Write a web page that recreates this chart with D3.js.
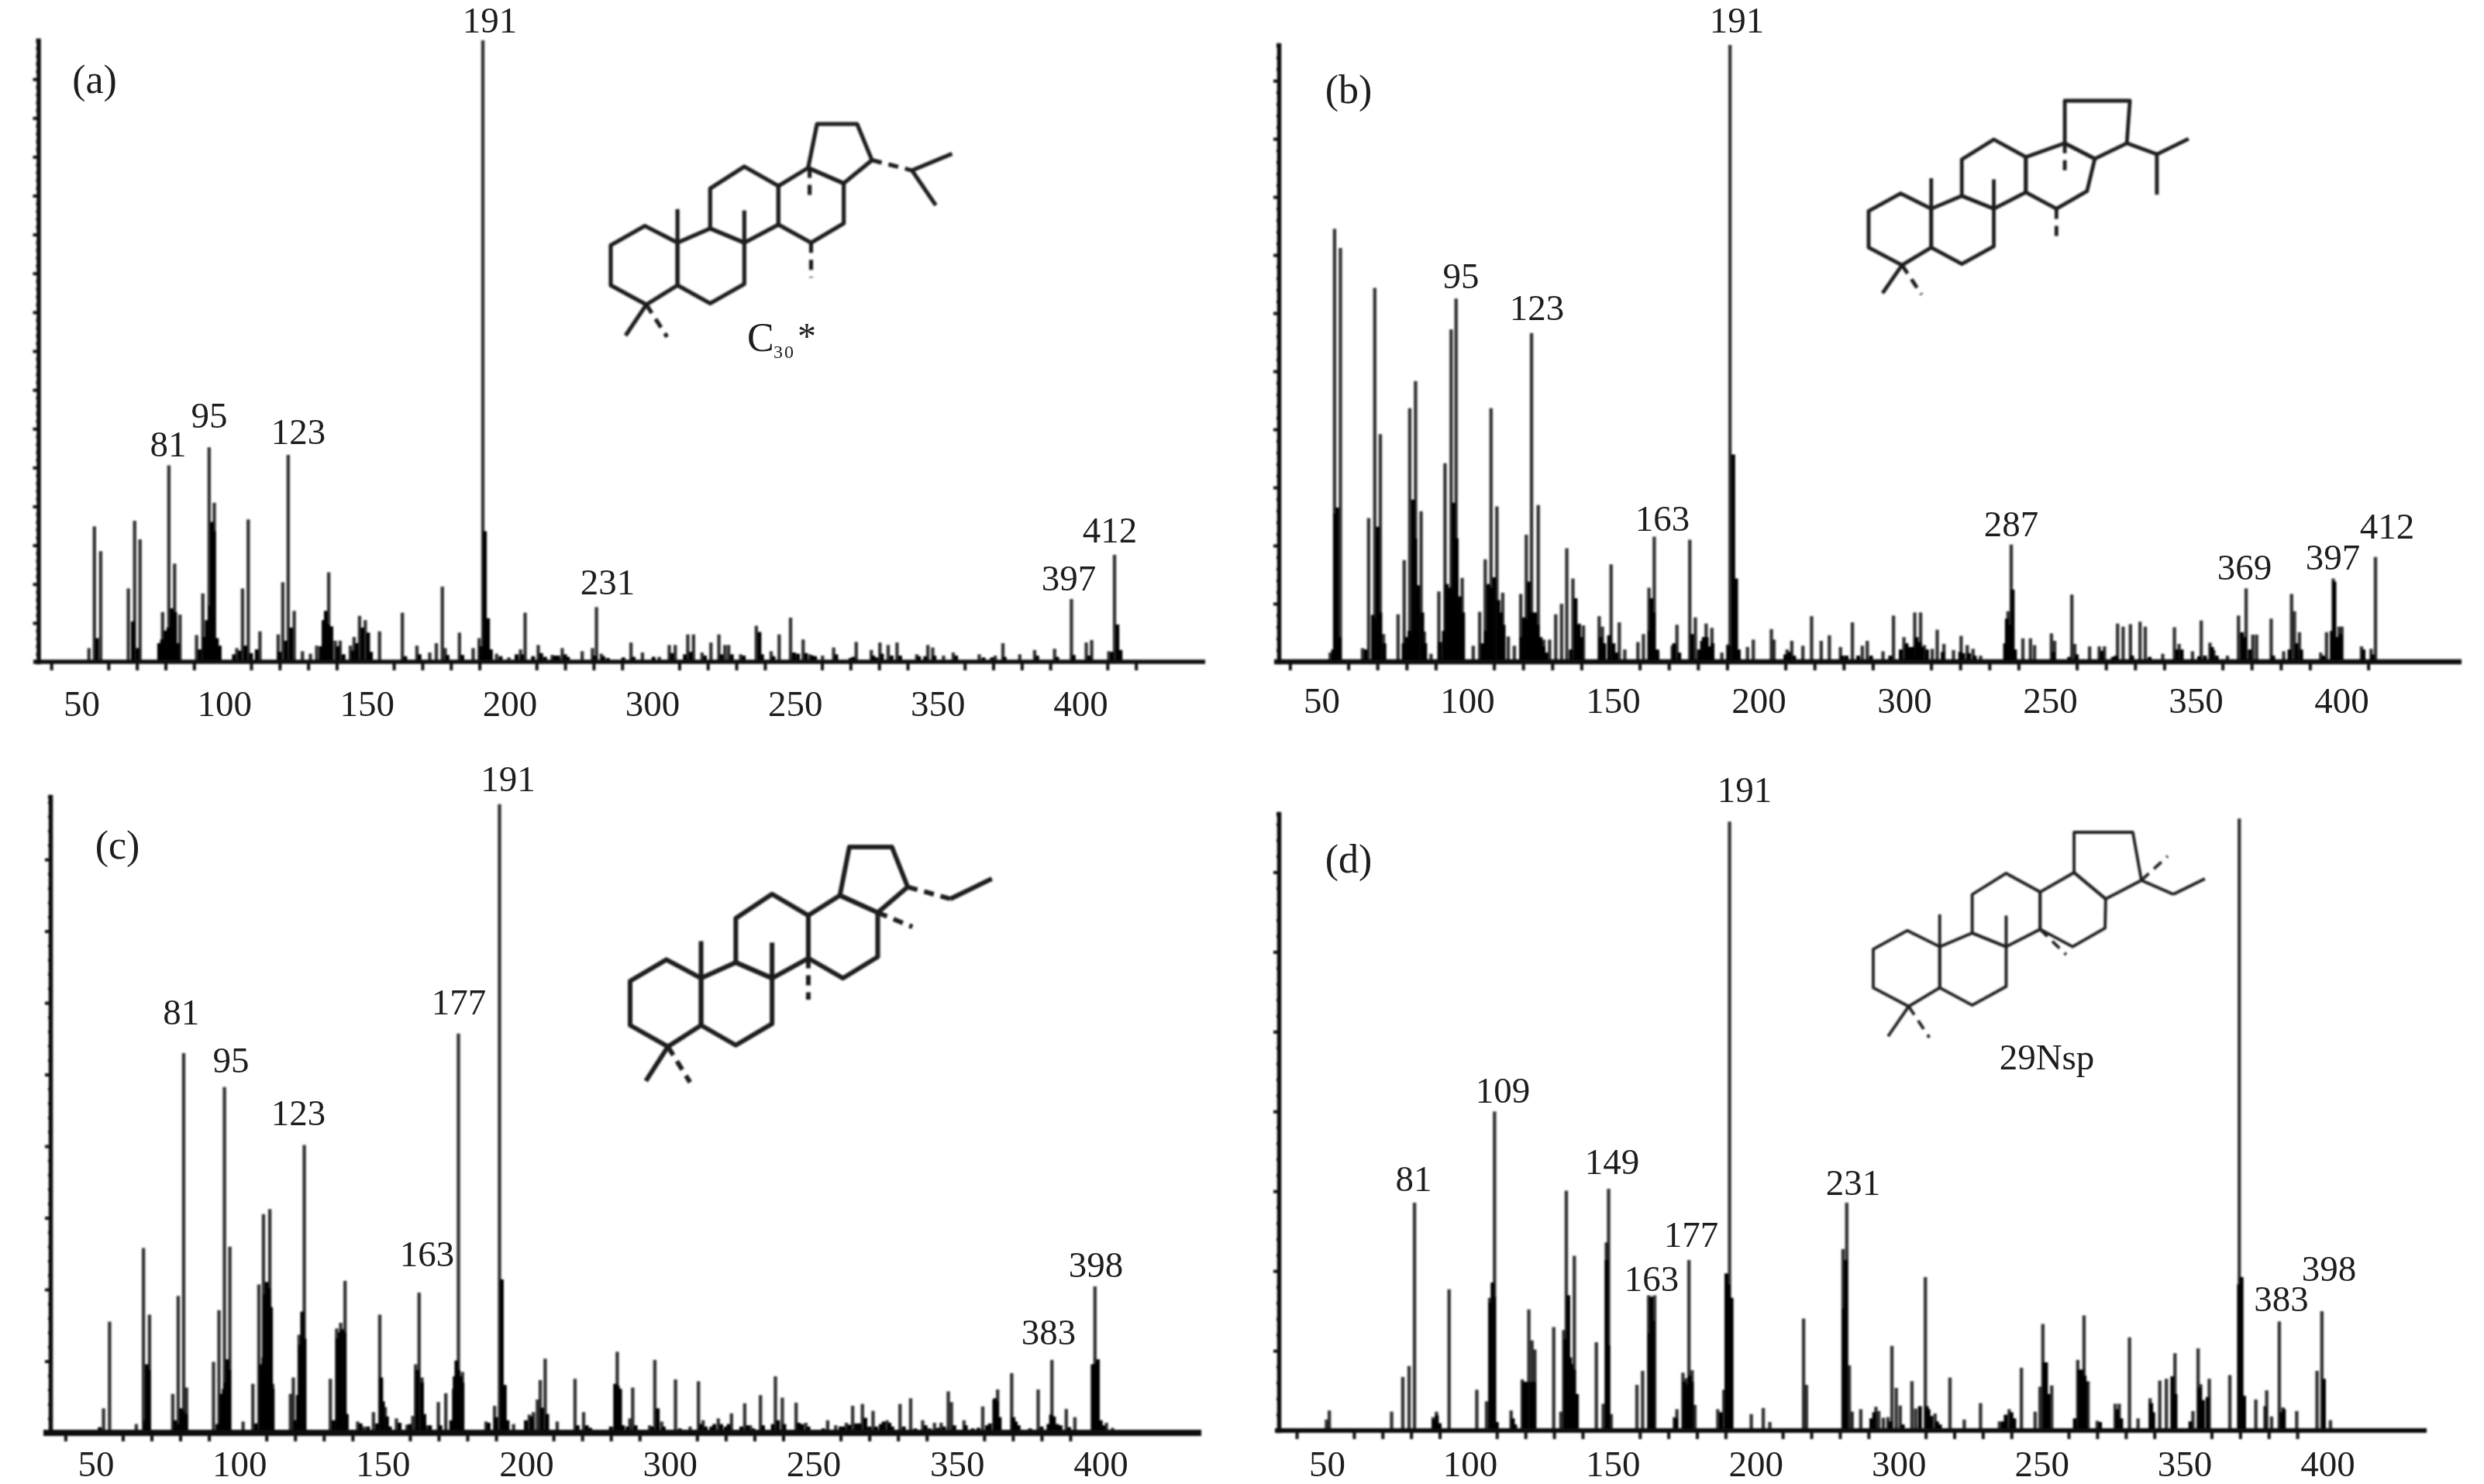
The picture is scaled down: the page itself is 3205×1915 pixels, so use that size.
<!DOCTYPE html>
<html><head><meta charset="utf-8">
<script src="https://cdnjs.cloudflare.com/ajax/libs/d3/7.8.5/d3.min.js"></script>
<style>
html,body{margin:0;padding:0;background:#fff;overflow:hidden}
text{font-family:"Liberation Serif",serif;fill:#1d1d1d}
</style></head><body><svg id="c" width="3205" height="1915" xmlns="http://www.w3.org/2000/svg"></svg>
<script>
// ---------- DATA: [m/z, relative intensity %] ----------
const tickLabels=["50","100","150","200","300","250","350","400"]; // as printed in the source (300/250 swapped)
const majorTicks=[50,100,150,200,250,300,350,400];

const peaksA=[[53.2,2.2],[55.1,21.8],[57.3,17.8],[67,11.8],[69.2,22.7],[71.1,19.7],[79,8],[81.2,31.6],[83.2,15.8],[85.1,7.6],[90.9,4.3],[93.1,11],[95.3,34.5],[97.1,25.6],[105,2.2],[107,11.8],[109,22.9],[113.1,4.9],[119.5,4.4],[121.1,12.8],[123,33.3],[125.1,8.2],[128,1.7],[130.8,1.3],[133,2.6],[137.2,14.4],[139.5,3.4],[141.2,3.4],[144.8,2.6],[146.1,4],[148,7.4],[150,6.7],[155,4.9],[163,7.9],[168.1,2.6],[172.6,1.5],[174.9,3],[177,12.1],[178,2.2],[183,4.7],[187.8,2.2],[189.9,3.8],[191.2,100],[196,1.3],[200.3,0.7],[204.4,2],[206,7.9],[210.6,2.7],[215.5,1.1],[219,2.2],[226,1.7],[229.6,2.2],[231,8.8],[232.7,1.3],[243.1,3.1],[247.1,1.5],[253,0.8],[256.5,2.7],[258.6,2.7],[263,4.4],[265,4.4],[268,1.5],[271.1,3.1],[273.9,4.4],[276,2.7],[277.3,2.7],[281.5,1.2],[287,5.8],[292.2,1.7],[295,4.4],[299,7.1],[303.4,3.6],[305.8,1.2],[310.2,1],[314.1,2.3],[322,3.2],[327.3,1.9],[330.3,3.1],[333.2,2.7],[336.3,3.1],[343.2,1.2],[347.1,2.7],[348.8,2.3],[352.6,1],[356,1.5],[365.1,1.2],[370.7,1],[373.4,3],[379.3,1.2],[384.5,1.9],[391.5,2.1],[397.4,10.1],[402.6,3.1],[404.5,3.5],[410.5,1.7],[412.5,17.2]];
const coreA=[[56,3.8],[68.6,6.5],[70.2,2.2],[77.8,3],[78.8,3.6],[80,5],[81,5.5],[82.2,8.6],[83.4,8],[84.4,3],[92,2],[93.6,4],[94.5,6.7],[95.6,9],[96.3,22.5],[97,21],[98,3.8],[99,2.6],[104,1.2],[106,1.8],[108,2.6],[110,1.4],[112,2],[120,1.6],[122.2,3.4],[124,5.5],[134.4,2.5],[135.4,6.7],[136.2,8.2],[137,6],[138.1,5.7],[140.4,2.5],[142.4,1.2],[145.6,1.8],[147,3],[149,5.5],[151,4.7],[152,1.6],[164,0.9],[169,1.2],[178.8,1.1],[184,1.1],[190.6,2.5],[191.9,21],[193,7],[194,2],[197.4,0.9],[203,1.2],[205,1.2],[208.8,0.9],[211.6,1.4],[213,0.8],[216.4,1],[217.6,1],[220,1.2],[221,0.8],[230.4,1],[233.4,0.9],[235,0.6],[240.4,0.7],[244,0.8],[251,0.8],[257.5,1.4],[262,1.2],[264,1.6],[269,1],[274.8,1.2],[278.4,1.2],[282.6,1],[288.1,4.8],[289,1.2],[293,0.9],[300.2,1.5],[301.6,1.3],[304.4,1.4],[306.6,1],[307.6,0.9],[315,1.2],[320,0.6],[321,0.8],[328,1],[329,0.7],[331,1.3],[334.4,1],[337.4,1],[344,0.9],[346.2,0.9],[349.4,1],[357,1],[366.6,0.7],[369.6,0.7],[374,0.8],[385.4,1],[392.4,0.8],[398.2,1.1],[403.6,1],[411.6,1.6],[413.5,6],[414.6,1.9]];

const peaksB=[[53.8,1.5],[55.3,70.2],[57.3,67.1],[64.9,2.2],[67,23.3],[69.1,60.6],[71,36.9],[72.1,4.5],[77.1,7.7],[79.2,16.5],[81.1,41.1],[83.1,45.5],[85,24.4],[86.1,4.9],[88.4,1.3],[91.1,11.4],[93.2,32.2],[95.3,53.9],[97,58.9],[99.1,13.6],[102.9,2.6],[105.1,8.1],[107,16.6],[109,41.1],[111,25.2],[113,11.2],[114.9,4.1],[117,2.6],[119.2,11],[121.1,20.6],[122.9,53.3],[125.2,25.4],[127.1,3.6],[129.1,3.6],[131.2,7.7],[133.2,9.4],[135,18.4],[137.1,13.5],[139.3,6.2],[140.7,5.9],[146.1,7.4],[147.2,5.7],[150.2,15.8],[153,6.4],[154.9,2],[159.4,3.2],[161.3,4.5],[163.2,12],[165,20.3],[166.2,1.8],[171.2,2.6],[172.8,6],[177.2,19.8],[179.1,7.2],[182.8,6.2],[184.8,5.5],[188.2,1.5],[190.2,2.8],[191,100],[194,1.3],[197,2.4],[199,3.6],[205.2,5.3],[206.1,3.6],[210.6,2],[212.2,3.4],[216,2.6],[219,7.4],[222.3,3.4],[225.1,4.3],[228.9,2.4],[233,6.4],[236.4,2.6],[238.1,3.4],[243.5,1.7],[247.1,7.5],[250.7,4],[254.4,8],[256.4,8],[257.7,2.7],[260.4,2.1],[262.1,5.2],[264.4,2.9],[267.7,1.9],[270.3,4.2],[272.4,2.7],[274.4,2.1],[277,1],[286.4,8.2],[287.5,19],[291.5,3.8],[294.1,3.8],[295.5,2.7],[301.3,4.6],[302.4,3.4],[308.3,10.9],[309.3,2.9],[314.4,2.5],[317.7,2.5],[319.5,2.5],[324,6.2],[325.9,5.7],[328.4,6.1],[331.7,6.5],[333.5,5.7],[339.5,1.3],[343.5,5.6],[345.1,2.9],[349.7,1.7],[352.7,6.7],[355.7,3.1],[357,1.9],[361.7,1],[365.5,7.5],[368.1,11.9],[370.4,4.4],[371.7,4.4],[376.7,7],[381,1.7],[383.7,11],[384.7,8.2],[386.4,4.8],[393.7,1.5],[395.7,4.8],[398,13.5],[400,5.7],[401,5.7],[407.7,2.5],[411,2.1],[412.5,17]];
const coreB=[[54.8,2],[55.6,24],[56.2,25],[57,4],[66,2],[68.5,7.6],[69.4,7],[70.1,21.9],[71,8],[72.4,3],[79,3],[80,4],[81,5],[82.3,26.3],[83,20],[84,12.4],[85.4,8],[86.4,3],[91.5,3.2],[92.8,5],[93.8,12.6],[95,12],[96.2,25.8],[97.2,20],[98.3,10.6],[99.4,8],[106,3],[107.2,5],[108.1,12.6],[109,12],[110.1,13.7],[111.5,10],[112.4,8],[113.3,6],[119.4,4],[120.3,7.2],[121.2,7],[122,13],[123,8],[124.1,8],[125,6],[126,4],[127,2.5],[128,1.5],[136.4,2],[138,10.3],[139,6],[140,4],[146.6,4],[147.8,3],[149.5,4.3],[151,3],[152,1.5],[163.4,5],[164,10.3],[164.8,8],[166,2],[171.8,3],[173.6,1.5],[178,4.5],[180.4,2],[181.4,3.4],[182,4],[183,4],[184,2.5],[185,3],[190.6,2.6],[192.1,33.6],[193.1,13.5],[194,2],[210,1.2],[211.4,1.6],[213,1],[229.6,1],[231,1],[235,1],[239.4,1],[246,1],[249.6,2],[251.6,3],[252.6,2.4],[253.6,2.4],[255,4],[256,3.2],[257,2.4],[258.6,2],[264,1.6],[270,1.6],[271,1.4],[273,1.4],[275,1],[285.4,3],[286,7],[287,6],[288,11.7],[288.8,2],[302,1.6],[307.4,0.8],[310,1.2],[318.6,1.8],[322.4,0.8],[323.4,1],[329,1],[335,0.8],[344.4,2],[346,2],[352,0.9],[354,1],[356.4,2.4],[358,1],[366.7,4.8],[367.6,4],[369.4,2],[377.4,1],[383,2],[385.4,3],[387,2],[394.6,1],[397.5,5],[398.4,13],[399.5,4],[400.5,4.5],[408.4,2],[411.6,1.2]];

const peaksC=[[53.3,3.9],[55.4,17.7],[64.7,1.4],[67.2,29.4],[69.3,18.8],[77.4,6.2],[79.3,21.8],[81.2,60.4],[82.2,7.2],[91.6,11.3],[93.5,19.5],[95.4,55],[97.3,29.6],[101.9,1.8],[105.3,7.8],[107.4,23.6],[109,34.8],[111.2,35.6],[112.2,7.8],[118.4,6.2],[119.4,8.8],[121.4,15.6],[123.2,45.8],[132.3,8.6],[134.5,16.6],[135.9,17.5],[137.4,24.2],[141.8,1.8],[144,1],[147.3,3.3],[149.5,18.8],[151.4,4.1],[155.3,2.3],[159,1.3],[161,2.7],[162,10.9],[163.2,22.3],[164.2,8.8],[166,1.2],[169.9,4.9],[172.5,6.3],[175.2,7],[176.9,63.5],[178.3,9.7],[186.5,1.8],[189.5,4.3],[191.2,100],[193,7.6],[196.1,1.4],[201.6,2.9],[203,3.3],[204.4,5.3],[205.4,8.4],[207.1,11.8],[211.3,1.8],[217.5,8.6],[220.5,3.3],[232.2,12.9],[236.6,2.3],[237.6,7.2],[243.5,1.2],[245.3,11.6],[247.7,1.8],[252.5,8.5],[257.6,1],[260.5,8.2],[262.1,2],[267.4,2.3],[272,3.1],[276.6,4.7],[278.6,1.2],[282.1,6],[287.3,9],[289.7,5.6],[294.5,4.8],[297.9,1.6],[305.5,2],[308.3,1.2],[312,1.6],[314.2,4.3],[317.6,4.6],[321.3,3.5],[326.2,2],[330.7,4.6],[334.4,5.5],[338.6,2],[342.7,1.6],[345,1.6],[347.5,6.6],[348.6,4.9],[353,2],[359.5,4.2],[363.4,5.3],[364.7,6.9],[369.6,9.5],[378.8,6.9],[383.6,11.6],[388.6,3.8],[391.6,2.5],[398.6,23.3],[402.6,1.6],[404.7,0.8]];
const coreC=[[52,0.9],[67.8,2],[68.4,10.9],[69,10],[78.2,2],[79,1.4],[80.3,3.9],[81,3.5],[82,3],[93,1.4],[94.3,6.2],[95.2,7],[95.8,8],[96.4,11.7],[97,10],[106.4,1.5],[108.1,10.9],[109,12],[109.5,22],[110.1,24],[110.8,23],[111.6,20],[112.2,7],[120,2],[121,6],[121.8,14],[122.5,19.3],[123.3,15],[133.4,2],[134.8,15],[135.6,16],[136.4,16.5],[137.2,16],[138,3],[142.8,1.5],[145.4,1],[148.6,1.5],[150,8.8],[150.6,5],[152,2.6],[153,1],[156.4,1.6],[160,1.4],[162.6,10],[164.2,8],[165,3],[167,1.2],[170.6,1.2],[174.4,2],[175.6,9],[176.2,11.5],[176.9,10],[177.6,9],[178.3,8],[187.4,1.6],[190,2.5],[192,24.4],[193,7.6],[194,2],[200.4,2],[202.4,2.6],[206,4],[207.8,3],[218.4,1.2],[221.6,1.2],[222.8,0.8],[230,1],[231.5,7.8],[232.4,7.5],[233.2,7],[234.2,1.2],[235.8,1],[238.6,1.2],[244.4,1],[246.3,3.9],[248.4,1],[254,0.7],[261.4,1.4],[263,1],[265,1],[266,1.4],[268.4,1.4],[270,1],[271,1.4],[275.4,1],[277.6,1.2],[279.6,0.7],[283,1.2],[286.4,1.4],[288.2,2],[290.4,1.4],[295.4,1.6],[296.6,1.4],[298.8,1],[304,0.7],[310,1],[311,1],[313,1.3],[315.4,1.5],[316.6,1.5],[318.6,2.4],[320,1],[322.4,1],[324,1.4],[325,1.8],[327,1.6],[328,1],[332,1],[336,0.7],[339.6,1.2],[341,0.7],[344,0.8],[346,1],[349.6,1.2],[353.6,1.2],[356,0.7],[358,0.8],[361,1.2],[362,1.5],[363.8,5.5],[364.4,5],[365.4,2.5],[370.2,2.5],[371,1.8],[372,1.2],[376,0.7],[380,1],[382.4,1.4],[383.3,2.9],[384.3,2.6],[385.4,1.4],[386.6,1.2],[389.6,0.9],[397.8,10.9],[398.7,11],[399.6,11.7],[400.6,2],[401.6,1.2]];

const peaksD=[[50.4,1.8],[51.4,3.3],[73.2,3.1],[77.1,8.8],[79.3,10.6],[81.2,37.4],[87.7,2.2],[88.9,3.1],[93.3,23.2],[103,6.7],[106.4,4.8],[107.5,21.8],[109.2,52.4],[115,3.3],[118.9,8.4],[121.2,19.9],[122.3,14.8],[123.3,13.3],[129.9,17],[132.4,3.1],[133.4,16.5],[134.3,39.4],[137.1,28.7],[144.8,14.5],[147.2,4.4],[148.3,30.9],[149.1,39.7],[150,2.7],[159,7.5],[161,9.8],[163.1,22.2],[165.2,22.2],[172.1,2.2],[173,3.5],[175.1,9.5],[176.2,8.6],[177.2,28],[178.3,9.9],[179.3,4.2],[187.3,3.5],[189.4,6.7],[191.4,100],[199,2.7],[203.2,3.7],[205.5,1.4],[217.3,18.4],[218.3,7.5],[231.1,29.8],[232.4,37.4],[233.3,10.7],[234.3,3.1],[237.3,3.5],[242.6,3.9],[243.6,3.2],[245.2,2.1],[246.8,2.2],[248.2,13.9],[249.7,7],[251.1,4.1],[255.2,8.1],[256.5,3.6],[259.9,25.2],[263.3,2.8],[268.5,8.7],[273.5,1.8],[279.2,4.5],[285.8,1.5],[289.2,3.5],[293.5,10.3],[298.3,3.1],[300,7.2],[301,17.5],[304.1,7.4],[313.2,11.6],[315.4,18.9],[316.8,8.1],[320,1.6],[326.3,4.4],[327.7,4.4],[331.3,15.3],[334.3,2],[338.5,5.3],[341.9,8.2],[344.2,8.5],[347.2,12.7],[353.5,3.2],[355.3,13.5],[356.2,7.6],[359.2,8.5],[366.4,9.1],[369.7,100.5],[375.5,5.1],[378.7,4],[379.3,6.6],[381,2.3],[383.7,17.9],[385,3.8],[389.8,3.2],[396.9,9.8],[398.6,19.6],[401.6,1.7]];
const coreD=[[88,1.8],[89,2.5],[90,1.2],[115.6,2],[116.4,1],[107.8,21],[108.5,24.3],[109,22],[110,1.4],[119.5,8],[120.5,8],[122,8],[123,8],[134,15],[135,22.2],[135.6,12],[136.1,10.9],[137,10],[138,6],[148.4,28],[149,14],[163.5,16],[164,22],[164.6,18],[172.6,2],[175.6,8],[176.4,7.5],[177.5,9],[178.2,8],[188.4,3],[190.3,25.8],[191,24],[192.1,21.8],[231.4,20],[232,28],[241,2],[242,3],[247.6,1.5],[252,1],[258,4],[260.4,4],[261,3.5],[262,2.4],[264,1.5],[265,1],[287,1.5],[288,2.6],[290,3],[291,2],[301.6,11.2],[302.1,11.2],[303,6],[312.2,2],[313.8,10],[314.6,10],[315.6,9],[316,8],[321,1.4],[327,3.5],[328.4,2],[338.9,4.5],[339.6,3],[346.3,8.9],[347.4,6],[352.6,1.5],[355.8,7],[357,5],[358.6,5.5],[369.6,24],[370.5,25.2],[371.4,5.7],[385.3,3.5],[384.5,3],[399.3,8.5]];

// ---------- LAYOUT ----------
const W=3205,H=1915;
const svg=d3.select("#c");
const defs=svg.append("defs");
defs.append("filter").attr("id","soft").attr("x","-5%").attr("y","-5%").attr("width","110%").attr("height","110%")
  .append("feGaussianBlur").attr("stdDeviation",0.8);

const ringPaths=[
 [[230,590],[345,515],[455,580],[455,745],[350,820],[230,745]],
 [[455,580],[565,525],[680,580],[680,740],[565,815],[455,745]],
 [[565,525],[565,370],[680,285],[795,360],[795,510],[680,580]],
 [[795,510],[795,360],[895,290],[1015,350],[1015,505],[905,580]],
 [[895,290],[925,120],[1060,120],[1110,260],[1015,350]]
];
const gemBond=[[350,820],[280,940]], gemDash=[[350,820],[420,945]];
const methyl1=[[455,580],[455,450]], methyl2=[[680,580],[680,455]];

const panels=[
{id:"a",peaks:peaksA,core:coreA,x50:103,x400:1392,base:854,top:52,yMax:100,axisX:49.5,lineStart:43,lineEnd:1555,minorMax:420,yMajor:6.25,baseW:5.5,
 tag:[122,120],tlY:70,tlDx:2,
 labels:[["191",632,42],["81",217,589],["95",270,552],["123",385,573],["231",784,767],["397",1379,762],["412",1432,700]],
 mol:{x0:788,xs:0.383,y0:160,ys:0.333,sw:5.2,remap:{},
  solid:[[[1245,300],[1380,235]],[[1245,300],[1325,435]]],
  dash:[[[1110,260],[1245,300]],[[900,290],[900,415]],[[905,580],[905,715]]]}},
{id:"b",peaks:peaksB,core:coreB,x50:1702,x400:3018,base:854,top:58,yMax:100,axisX:1650,lineStart:1644,lineEnd:3176,minorMax:410,yMajor:9.42,baseW:6.5,
 tag:[1740,133],tlY:66,tlDx:3,
 labels:[["191",2241,42],["95",1885,372],["123",1983,413],["163",2145,685],["287",2595,692],["369",2896,748],["397",3010,735],["412",3080,695]],
 mol:{x0:2411,xs:0.359,y0:130,ys:0.303,sw:4.8,
  remap:{"895,290":[935,301],"1015,350":[1043,367],"925,120":[935,120],"1060,120":[1169,120],"1110,260":[1158,301]},
  solid:[[[1158,301],[1266,348]],[[1266,348],[1380,282]],[[1266,348],[1266,520]]],
  dash:[[[935,301],[935,440]],[[905,580],[905,715]]]}},
{id:"c",peaks:peaksC,core:coreC,x50:121.4,x400:1418,base:1849,top:1028,yMax:101.2,axisX:65,lineStart:56,lineEnd:1550,minorMax:400,yMajor:11.4,baseW:8,
 tag:[151.5,1108],tlY:56,tlDx:2,
 labels:[["191",655.6,1021],["81",233.7,1322],["95",298,1384],["177",592,1309],["123",385,1452],["163",551,1634],["383",1353,1735],["398",1414,1648]],
 mol:{x0:813,xs:0.407,y0:1093,ys:0.368,sw:6,remap:{},
  solid:[[[1245,302],[1377,231]]],
  dash:[[[1110,260],[1245,302]],[[1015,350],[1125,400]],[[795,510],[795,655]]]}},
{id:"d",peaks:peaksD,core:coreD,x50:1710,x400:3001,base:1846,top:1050,yMax:101.3,axisX:1650,lineStart:1645,lineEnd:3131,minorMax:400,yMajor:13.1,baseW:6,
 tag:[1740,1126],tlY:59,tlDx:2,
 labels:[["191",2251,1035],["109",1939,1423],["81",1824,1537],["149",2080,1515],["231",2391,1542],["177",2182,1609],["163",2131,1666],["383",2943.5,1692],["398",3005,1653]],
 mol:{x0:2417,xs:0.381,y0:1074,ys:0.321,sw:3.8,
  remap:{"925,120":[910,120],"1060,120":[1109,120],"1110,260":[1138,313],"1015,350":[1017,388],"895,290":[910,282]},
  solid:[[[1138,313],[1246,369]],[[1246,369],[1353,307]]],
  dash:[[[1138,313],[1227,216]],[[795,510],[883,612]]]}}
];

const lineGen=d3.line();

panels.forEach(p=>{
  const g=svg.append("g").attr("class","panel-"+p.id);
  const x=d3.scaleLinear().domain([50,400]).range([p.x50,p.x400]);
  const y=d3.scaleLinear().domain([0,p.yMax]).range([p.base,p.top]);
  const plot=g.append("g").attr("filter","url(#soft)");

  // peaks
  plot.append("g").selectAll("line").data(p.peaks).join("line")
    .attr("x1",d=>x(d[0])).attr("x2",d=>x(d[0]))
    .attr("y1",y(0)).attr("y2",d=>y(d[1]))
    .attr("stroke","#000").attr("stroke-opacity",0.8).attr("stroke-width",4.4);
  plot.append("g").selectAll("line").data(p.core).join("line")
    .attr("x1",d=>x(d[0])).attr("x2",d=>x(d[0]))
    .attr("y1",y(0)).attr("y2",d=>y(d[1]))
    .attr("stroke","#000").attr("stroke-width",5);

  // x axis: minor ticks every 10, major every 50
  const minor=d3.range(40,p.minorMax+1,10).filter(v=>v%50!==0);
  const axMinor=d3.axisBottom(x).tickValues(minor).tickSize(11).tickFormat("");
  plot.append("g").attr("transform",`translate(0,${p.base})`).call(axMinor)
    .call(s=>s.select(".domain").remove())
    .call(s=>s.selectAll("line").attr("stroke","#111").attr("stroke-width",4));
  const axMajor=d3.axisBottom(x).tickValues(majorTicks).tickSize(19).tickFormat((d,i)=>tickLabels[i]);
  const am=g.append("g").attr("transform",`translate(0,${p.base})`).call(axMajor);
  am.select(".domain").remove();
  am.selectAll("line").attr("stroke","#111").attr("stroke-width",4.2).attr("filter","url(#soft)");
  am.selectAll("text").attr("y",p.tlY).attr("dy",0).attr("dx",p.tlDx)
    .style("font-family",'"Liberation Serif",serif').style("font-size","47px").attr("fill","#1d1d1d");

  // baseline
  plot.append("line").attr("x1",p.lineStart).attr("x2",p.lineEnd).attr("y1",y(0)).attr("y2",y(0))
    .attr("stroke","#111").attr("stroke-width",p.baseW);

  // y axis
  const yMaj=d3.range(0,p.yMax,p.yMajor).filter(v=>v>0);
  const yMin=d3.range(0,p.yMax,p.yMajor/5).filter(v=>v>0);
  const ay1=d3.axisLeft(y).tickValues(yMin).tickSize(3).tickFormat("");
  plot.append("g").attr("transform",`translate(${p.axisX},0)`).call(ay1)
    .call(s=>s.select(".domain").attr("stroke","#111").attr("stroke-width",5.5))
    .call(s=>s.selectAll("line").attr("stroke","#111").attr("stroke-width",3.4));
  const ay2=d3.axisLeft(y).tickValues(yMaj).tickSize(7).tickFormat("");
  plot.append("g").attr("transform",`translate(${p.axisX},0)`).call(ay2)
    .call(s=>s.select(".domain").remove())
    .call(s=>s.selectAll("line").attr("stroke","#111").attr("stroke-width",4));

  // labels
  g.append("g").selectAll("text").data(p.labels).join("text")
    .attr("x",d=>d[1]).attr("y",d=>d[2]).attr("text-anchor","middle").attr("font-size",47).text(d=>d[0]);
  g.append("text").attr("x",p.tag[0]).attr("y",p.tag[1]).attr("text-anchor","middle").attr("font-size",52).text(`(${p.id})`);

  // molecule skeleton
  const m=p.mol, mg=g.append("g").attr("fill","none").attr("stroke","#1c1c1c").attr("stroke-width",m.sw)
    .attr("stroke-linejoin","round").attr("filter","url(#soft)");
  const mp=d=>{const r=m.remap[d.join(",")]||d; return [m.x0+(r[0]-230)*m.xs, m.y0+(r[1]-120)*m.ys];};
  ringPaths.forEach(r=>mg.append("path").attr("d",lineGen(r.map(mp))+"Z"));
  [gemBond,methyl1,methyl2,...m.solid].forEach(b=>mg.append("path").attr("d",lineGen(b.map(mp))));
  [gemDash,...m.dash].forEach(b=>mg.append("path").attr("d",lineGen(b.map(mp))).attr("stroke-dasharray","13 9"));
});

// compound captions
svg.append("text").attr("x",964).attr("y",453).attr("font-size",52).text("C");
svg.append("text").attr("x",998).attr("y",462).attr("font-size",24).attr("letter-spacing",2).text("30");
svg.append("text").attr("x",1029).attr("y",450).attr("font-size",48).text("*");
svg.append("text").attr("x",2641).attr("y",1380).attr("text-anchor","middle").attr("font-size",47).text("29Nsp");
</script></body></html>
